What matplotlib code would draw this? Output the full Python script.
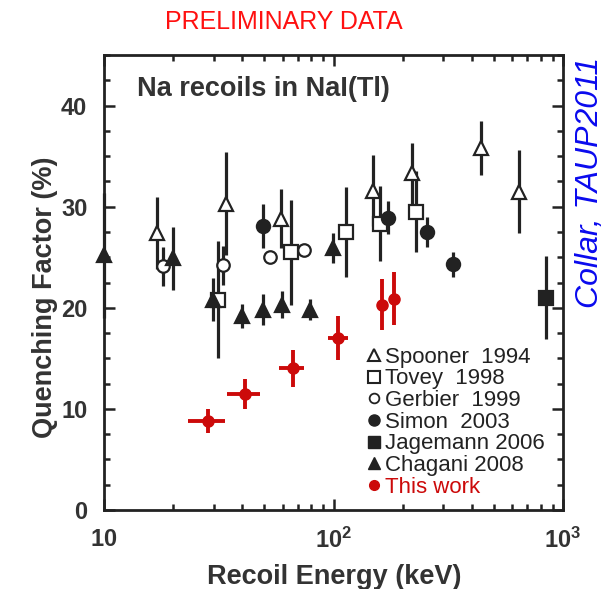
import matplotlib
matplotlib.use("Agg")
import matplotlib.pyplot as plt
from matplotlib.lines import Line2D
from matplotlib.ticker import FixedLocator, NullFormatter, MultipleLocator

plt.rcParams['font.family'] = ['Liberation Sans', 'DejaVu Sans']
plt.rcParams['mathtext.fontset'] = 'custom'
plt.rcParams['mathtext.rm'] = 'Liberation Sans'
plt.rcParams['mathtext.bf'] = 'Liberation Sans:bold'

# Spooner 1994 (open triangles)
spooner_E = [17.1, 34.1, 58.9, 149, 219, 437, 646]
spooner_Q = [27.4, 30.3, 28.8, 31.6, 33.3, 35.8, 31.5]
spooner_err = [3.6, 5.1, 2.9, 3.5, 3.0, 2.7, 4.1]

# Tovey 1998 (open squares)
tovey_E = [31.4, 65.3, 113, 159, 228]
tovey_Q = [20.8, 25.5, 27.5, 28.3, 29.5]
tovey_err = [5.8, 5.2, 4.45, 3.7, 4.0]

# Gerbier 1999 (open circles)
gerbier_E = [18.1, 33.0, 52.9, 74.3]
gerbier_Q = [24.1, 24.2, 25.0, 25.7]
gerbier_err = [1.95, 1.9, 0.4, 0.5]

# Simon 2003 (filled circles)
simon_E = [49.4, 173, 255, 333]
simon_Q = [28.1, 28.9, 27.5, 24.3]
simon_err = [2.15, 1.65, 1.45, 1.25]

# Jagemann 2006 (filled square)
jag_E = [843]
jag_Q = [21.0]
jag_err = [4.1]

# Chagani 2008 (filled triangles)
chag_E = [10.0, 20.0, 29.9, 39.8, 49.4, 59.4, 79.1, 99.2]
chag_Q = [25.2, 24.9, 20.8, 19.2, 19.8, 20.3, 19.8, 25.9]
chag_err = [6.2, 3.1, 2.15, 1.2, 1.55, 1.35, 1.05, 1.45]

# this work (red)
work_E = [28.5, 41.1, 66.4, 105, 162, 184]
work_Q = [8.8, 11.5, 14.0, 17.0, 20.3, 20.9]
work_xlo = [5.3, 6.9, 8.5, 10, 5, 5]
work_xhi = [5.2, 6.6, 8.0, 11, 5, 5]
work_err = [1.2, 1.5, 1.8, 2.2, 2.5, 2.65]

ink = '#222222'
red = '#cc0a0a'

fig = plt.figure(figsize=(6.10, 5.89), dpi=100)
ax = fig.add_axes([0.1705, 0.1341, 0.7525, 0.7725])

def series(x, y, err, marker, filled, ms):
    ax.errorbar(x, y, yerr=err, fmt=marker, color=ink, ecolor=ink,
                mfc=ink if filled else 'white', mec=ink, ms=ms, mew=1.6,
                elinewidth=2.3, capsize=0, clip_on=False, zorder=3)

series(tovey_E, tovey_Q, tovey_err, 's', False, 9.5)
series(spooner_E, spooner_Q, spooner_err, '^', False, 10.5)
series(gerbier_E, gerbier_Q, gerbier_err, 'o', False, 9)
series(simon_E, simon_Q, simon_err, 'o', True, 9.5)
series(jag_E, jag_Q, jag_err, 's', True, 9.5)
series(chag_E, chag_Q, chag_err, '^', True, 9.5)

ax.errorbar(work_E, work_Q, yerr=work_err, xerr=[work_xlo, work_xhi],
            fmt='o', color=red, ecolor=red, ms=8, elinewidth=2.8,
            capsize=0, zorder=4)

ax.set_xscale('log')
ax.set_xlim(10, 1000)
ax.set_ylim(0, 45)

ax.xaxis.set_major_locator(FixedLocator([10, 100, 1000]))
ax.xaxis.set_minor_locator(FixedLocator([v * d for d in (10, 100) for v in range(2, 10)]))
ax.xaxis.set_minor_formatter(NullFormatter())
ax.set_xticklabels([r'$\mathbf{10}$', r'$\mathbf{10^2}$', r'$\mathbf{10^3}$'])
ax.yaxis.set_major_locator(MultipleLocator(10))
ax.yaxis.set_minor_locator(MultipleLocator(2.5))

ax.tick_params(which='both', direction='in', top=True, right=True,
               width=1.8, color=ink, labelcolor='#333333', labelsize=17)
ax.tick_params(axis='x', which='major', length=8, pad=13)
ax.tick_params(axis='y', which='major', length=8, pad=12)
ax.tick_params(which='minor', length=4)
for lab in ax.get_xticklabels() + ax.get_yticklabels():
    lab.set_fontweight('bold')
for s in ax.spines.values():
    s.set_linewidth(2)
    s.set_color(ink)

ax.set_xlabel('Recoil Energy (keV)', fontsize=19.5, fontweight='bold',
              color='#333333')
ax.set_ylabel('Quenching Factor (%)', fontsize=19.5, fontweight='bold',
              color='#333333')
ax.xaxis.set_label_coords(0.501, -0.118)
ax.yaxis.set_label_coords(-0.100, 0.468)

ax.text(0.072, 0.925, 'Na recoils in NaI(Tl)', transform=ax.transAxes,
        fontsize=19.5, fontweight='bold', color='#333333', va='center')

handles = [
    Line2D([], [], ls='none', marker='^', mfc='white', mec=ink, mew=1.5, ms=9),
    Line2D([], [], ls='none', marker='s', mfc='white', mec=ink, mew=1.5, ms=9),
    Line2D([], [], ls='none', marker='o', mfc='white', mec=ink, mew=1.3, ms=7),
    Line2D([], [], ls='none', marker='o', mfc=ink, mec=ink, ms=8),
    Line2D([], [], ls='none', marker='s', mfc=ink, mec=ink, ms=8),
    Line2D([], [], ls='none', marker='^', mfc=ink, mec=ink, ms=9),
    Line2D([], [], ls='none', marker='o', mfc=red, mec=red, ms=7),
]
labels = ['Spooner  1994', 'Tovey  1998', 'Gerbier  1999', 'Simon  2003',
          'Jagemann 2006', 'Chagani 2008', 'This work']
leg = ax.legend(handles, labels, loc='upper left', bbox_to_anchor=(0.572, 0.359),
                frameon=False, handlelength=0.65, handletextpad=0.2,
                labelspacing=0.03, borderpad=0, borderaxespad=0,
                prop={'size': 16})
for t in leg.get_texts():
    t.set_color('#222222')
leg.get_texts()[-1].set_color(red)

fig.text(0.466, 0.963, 'PRELIMINARY DATA', color='#ff1010', fontsize=18,
         ha='center', va='center')
fig.text(0.968, 0.69, 'Collar, TAUP2011', color='#0a0aee', fontsize=23,
         style='italic', rotation=90, ha='center', va='center')

fig.savefig('out.png', dpi=100)
